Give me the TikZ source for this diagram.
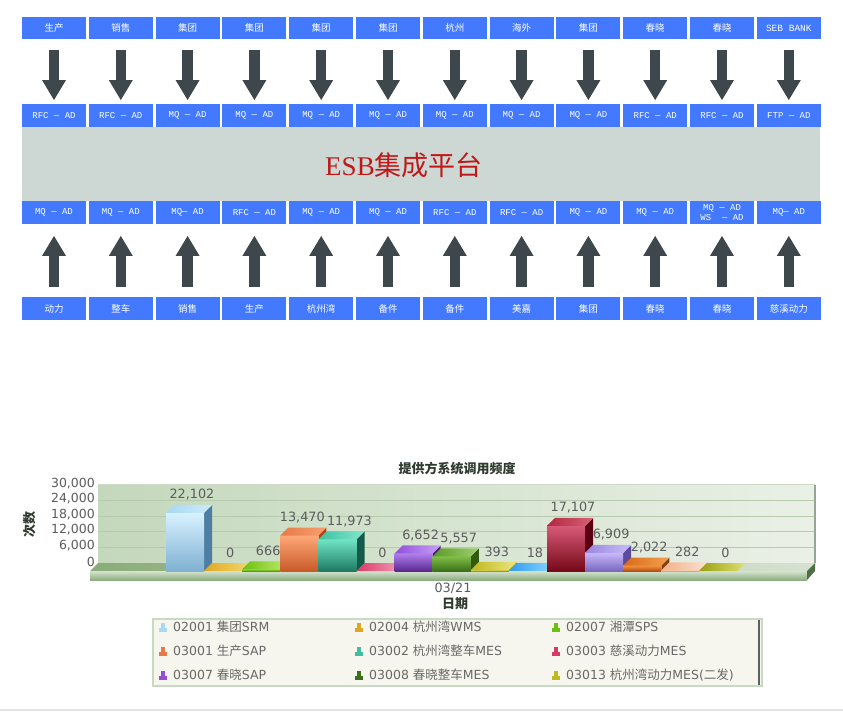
\documentclass[tikz,border=0pt]{standalone}
\usepackage{fontspec}
\setmainfont{DejaVu Sans}
\newfontfamily\cjkfont{Noto Sans CJK SC}
\newfontfamily\monof{Liberation Mono}
\newfontfamily\seriff{Liberation Serif}
\usetikzlibrary{arrows.meta}
\newcommand\zh[1]{{\cjkfont #1}}
\definecolor{boxblue}{HTML}{4279FF}
\definecolor{bandgrey}{HTML}{CDD8D5}
\definecolor{arrowgrey}{HTML}{3E474C}
\definecolor{esbred}{HTML}{C01818}
\definecolor{axisgrey}{HTML}{5C5C5C}
\definecolor{leggrey}{HTML}{686868}
\definecolor{titlegreen}{HTML}{2F3B2F}
\definecolor{wallL}{RGB}{196,216,188}
\definecolor{wallR}{RGB}{234,240,230}
\definecolor{gridc}{RGB}{182,202,174}
\definecolor{walltop}{RGB}{205,218,200}
\definecolor{walledge}{RGB}{150,165,150}
\definecolor{floorL}{RGB}{138,172,122}
\definecolor{floorR}{RGB}{214,226,208}
\definecolor{frontT}{RGB}{214,228,206}
\definecolor{frontB}{RGB}{140,172,130}
\definecolor{floorside}{RGB}{78,110,70}
\definecolor{legbg}{RGB}{246,246,238}
\definecolor{legborder}{RGB}{200,218,196}
\definecolor{scrollc}{RGB}{90,96,100}
\definecolor{rulec}{RGB}{226,226,226}
% bar colours: ft front top, fb front bottom, sd side, tl/tr top face
\definecolor{ft1}{HTML}{D8F2FF}\definecolor{fb1}{HTML}{7FB0D2}\definecolor{sd1}{HTML}{4E7FA2}\definecolor{tl1}{HTML}{A8D8F4}\definecolor{tr1}{HTML}{CDEBFB}
\definecolor{ft2}{HTML}{E0A820}\definecolor{fb2}{HTML}{C08810}\definecolor{sd2}{HTML}{A07010}\definecolor{tl2}{HTML}{E0A820}\definecolor{tr2}{HTML}{F6D870}
\definecolor{ft3}{HTML}{90D830}\definecolor{fb3}{HTML}{5A9A10}\definecolor{sd3}{HTML}{4A8010}\definecolor{tl3}{HTML}{6CC010}\definecolor{tr3}{HTML}{C0EC70}
\definecolor{ft4}{HTML}{FFA878}\definecolor{fb4}{HTML}{C85A28}\definecolor{sd4}{HTML}{B04414}\definecolor{tl4}{HTML}{E87848}\definecolor{tr4}{HTML}{F8A070}
\definecolor{ft5}{HTML}{70E4C4}\definecolor{fb5}{HTML}{1E7A64}\definecolor{sd5}{HTML}{145A48}\definecolor{tl5}{HTML}{40C0A0}\definecolor{tr5}{HTML}{80E8CC}
\definecolor{ft6}{HTML}{E06080}\definecolor{fb6}{HTML}{B03050}\definecolor{sd6}{HTML}{902040}\definecolor{tl6}{HTML}{D83A64}\definecolor{tr6}{HTML}{F4A0BC}
\definecolor{ft7}{HTML}{B080EC}\definecolor{fb7}{HTML}{5A2890}\definecolor{sd7}{HTML}{4A1C80}\definecolor{tl7}{HTML}{9050D8}\definecolor{tr7}{HTML}{C8A0F8}
\definecolor{ft8}{HTML}{80C048}\definecolor{fb8}{HTML}{3A7018}\definecolor{sd8}{HTML}{2F5C10}\definecolor{tl8}{HTML}{5A9A28}\definecolor{tr8}{HTML}{A0D070}
\definecolor{ft9}{HTML}{D0C840}\definecolor{fb9}{HTML}{A09818}\definecolor{sd9}{HTML}{807810}\definecolor{tl9}{HTML}{C0B820}\definecolor{tr9}{HTML}{ECE680}
\definecolor{ft10}{HTML}{60B8F8}\definecolor{fb10}{HTML}{2080D0}\definecolor{sd10}{HTML}{1870B0}\definecolor{tl10}{HTML}{2C9CF0}\definecolor{tr10}{HTML}{90D8FF}
\definecolor{ft11}{HTML}{D65A78}\definecolor{fb11}{HTML}{760818}\definecolor{sd11}{HTML}{5A0010}\definecolor{tl11}{HTML}{B02840}\definecolor{tr11}{HTML}{D86078}
\definecolor{ft12}{HTML}{C8B8FA}\definecolor{fb12}{HTML}{7868C0}\definecolor{sd12}{HTML}{5A4AA0}\definecolor{tl12}{HTML}{9888E0}\definecolor{tr12}{HTML}{C8BCF8}
\definecolor{ft13}{HTML}{F09040}\definecolor{fb13}{HTML}{B85010}\definecolor{sd13}{HTML}{804010}\definecolor{tl13}{HTML}{D86A18}\definecolor{tr13}{HTML}{F4A050}
\definecolor{ft14}{HTML}{F8C8A8}\definecolor{fb14}{HTML}{E0A080}\definecolor{sd14}{HTML}{C08060}\definecolor{tl14}{HTML}{F0B088}\definecolor{tr14}{HTML}{FCE0D0}
\definecolor{ft15}{HTML}{B8B830}\definecolor{fb15}{HTML}{8A8A10}\definecolor{sd15}{HTML}{707010}\definecolor{tl15}{HTML}{98A010}\definecolor{tr15}{HTML}{E0E070}
\tikzset{
  bbox/.style={fill=boxblue, minimum width=64pt, minimum height=22.5pt, inner sep=0pt, text=white, align=center},
  cjkt/.style={font=\cjkfont\fontsize{9.5}{11}\selectfont},
  monot/.style={font=\monof\fontsize{9}{10.5}\selectfont},
  blk/.style={draw=arrowgrey, line width=10.5pt, -{Triangle[width=24pt,length=20pt,line width=0pt]}},
  axlab/.style={anchor=east, inner sep=0pt, text=axisgrey, font=\fontsize{12.5}{14}\selectfont},
  vlab/.style={inner sep=0pt, text=axisgrey, font=\fontsize{12.8}{14}\selectfont},
  ctitle/.style={inner sep=0pt, text=titlegreen, font=\cjkfont\bfseries\fontsize{13}{15}\selectfont},
  legt/.style={anchor=west, inner sep=0pt, text=leggrey, font=\fontsize{12.5}{14}\selectfont},
}
\begin{document}
\begin{tikzpicture}[x=1pt,y=-1pt]
\useasboundingbox (0,0) rectangle (843,721);
\fill[white] (0,0) rectangle (843,721);
% ESB band
\node[fill=bandgrey, minimum width=798pt, minimum height=74pt, inner sep=0pt] (esb) at (421,164) {};
\node[text=esbred, inner sep=0pt, font=\fontsize{27}{30}\selectfont] (esbtext) at (404,165) {{\seriff ESB}\zh{集成平台}};
% boxes and arrows
\foreach \i/\ta/\tb/\tc/\td in {
 1/生产/RFC — AD/MQ — AD/动力,
 2/销售/RFC — AD/MQ — AD/整车,
 3/集团/MQ — AD/MQ— AD/销售,
 4/集团/MQ — AD/RFC — AD/生产,
 5/集团/MQ — AD/MQ — AD/杭州湾,
 6/集团/MQ — AD/MQ — AD/备件,
 7/杭州/MQ — AD/RFC — AD/备件,
 8/海外/MQ — AD/RFC — AD/美嘉,
 9/集团/MQ — AD/MQ — AD/集团,
 10/春晓/RFC — AD/MQ — AD/春晓,
 11/春晓/RFC — AD/{MQ — AD\\WS\ \ — AD}/春晓,
 12/{\monof SEB BANK}/FTP — AD/MQ— AD/慈溪动力}
{
 \pgfmathsetmacro\cx{54+66.8*(\i-1)}
 \node[bbox, cjkt] (t\i) at (\cx,28) {\ta};
 \node[bbox, monot] (m\i) at (\cx,115.5) {\tb};
 \node[bbox, monot] (r\i) at (\cx,212.5) {\tc};
 \node[bbox, cjkt] (b\i) at (\cx,308.5) {\td};
 \draw[blk, shorten <=11pt, shorten >=4pt] (t\i.south) -- (m\i.north);
 \draw[blk, shorten <=10pt, shorten >=12pt] (b\i.north) -- (r\i.south);
}
% chart title
\node[ctitle] (ctitle) at (457,469) {提供方系统调用频度};
% back wall
\shade[left color=wallL, right color=wallR] (98,484) rectangle (815,563);
\foreach \g in {500,516,531.5,547}{\draw[gridc, line width=1pt] (98,\g) -- (815,\g);}
\draw[walltop, line width=0.8pt] (98,484) -- (815,484);
\draw[walledge, line width=1.5pt] (815,485) -- (815,563);
% floor
\shade[left color=floorL, right color=floorR] (90,571) -- (98,563) -- (815,563) -- (807,571) -- cycle;
\shade[top color=frontT, bottom color=frontB] (90,571) rectangle (807,580);
\fill[floorside] (807,571) -- (815,563) -- (815,571) -- (807,580) -- cycle;
% axis labels
\node[axlab] (y30) at (95,484) {30,000};
\node[axlab] (y24) at (95,499) {24,000};
\node[axlab] (y18) at (95,514.5) {18,000};
\node[axlab] (y12) at (95,530) {12,000};
\node[axlab] (y6) at (95,545.5) {6,000};
\node[axlab] (y0) at (95,561.5) {0};
\node[ctitle, rotate=90] (ytitle) at (30,524) {次数};
% bars (values in thousands; \dx nudges the value label)
\foreach \i/\v/\lab/\dx in {1/22.102/{22,102}/0,2/0/0/0,3/0.666/666/0,4/13.470/{13,470}/-4,5/11.973/{11,973}/5,6/0/0/0,7/6.652/{6,652}/0,8/5.557/{5,557}/0,9/0.393/393/0,10/0.018/18/0,11/17.107/{17,107}/0,12/6.909/{6,909}/0,13/2.022/{2,022}/0,14/0.282/282/0,15/0/0/0}{
  \pgfmathsetmacro\xa{166+38.1*(\i-1)}
  \pgfmathsetmacro\xb{\xa+38.1}
  \pgfmathsetmacro\h{\v*2.6333}
  \pgfmathsetmacro\yf{571-\h}
  \pgfmathsetmacro\yb{563-\h}
  \ifdim\h pt>0.5pt
    \fill[sd\i] (\xb,571) -- (\xb,\yf) -- (\xb+8,\yb) -- (\xb+8,563) -- cycle;
    \shade[top color=ft\i, bottom color=fb\i] (\xa,\yf) rectangle (\xb,571);
  \fi
  \shade[left color=tl\i, right color=tr\i] (\xa,\yf) -- (\xa+8,\yb) -- (\xb+8,\yb) -- (\xb,\yf) -- cycle;
  \node[vlab] (v\i) at (\xa+26+\dx,\yb-10) {\lab};
}
\node[vlab] (date) at (453,588) {03/21};
\node[ctitle] (xtitle) at (455,604) {日期};
% legend
\fill[legbg] (153,619) rectangle (762,686);
\draw[legborder, line width=1.2pt] (153,619) rectangle (762,686);
\draw[scrollc, line width=2.5pt] (759,620) -- (759,685);
\foreach \n/\x/\y/\c/\t in {
 1/163/626.5/tl1/{02001 \zh{集团}SRM},
 2/359/626.5/tl2/{02004 \zh{杭州湾}WMS},
 3/556/626.5/tl3/{02007 \zh{湘潭}SPS},
 4/163/650.5/tl4/{03001 \zh{生产}SAP},
 5/359/650.5/tl5/{03002 \zh{杭州湾整车}MES},
 6/556/650.5/tl6/{03003 \zh{慈溪动力}MES},
 7/163/674.5/tl7/{03007 \zh{春晓}SAP},
 8/359/674.5/fb8/{03008 \zh{春晓整车}MES},
 9/556/674.5/tl9/{03013 \zh{杭州湾动力}MES(\zh{二发})}}{
  \fill[\c] (\x-4,\y+1) rectangle (\x+4,\y+5);
  \fill[\c] (\x-2,\y-4) rectangle (\x+1.5,\y+1);
  \node[legt] (L\n) at (\x+10,\y) {\t};
}
% bottom rule
\draw[rulec, line width=1.5pt] (0,710) -- (843,710);
\end{tikzpicture}
\end{document}
